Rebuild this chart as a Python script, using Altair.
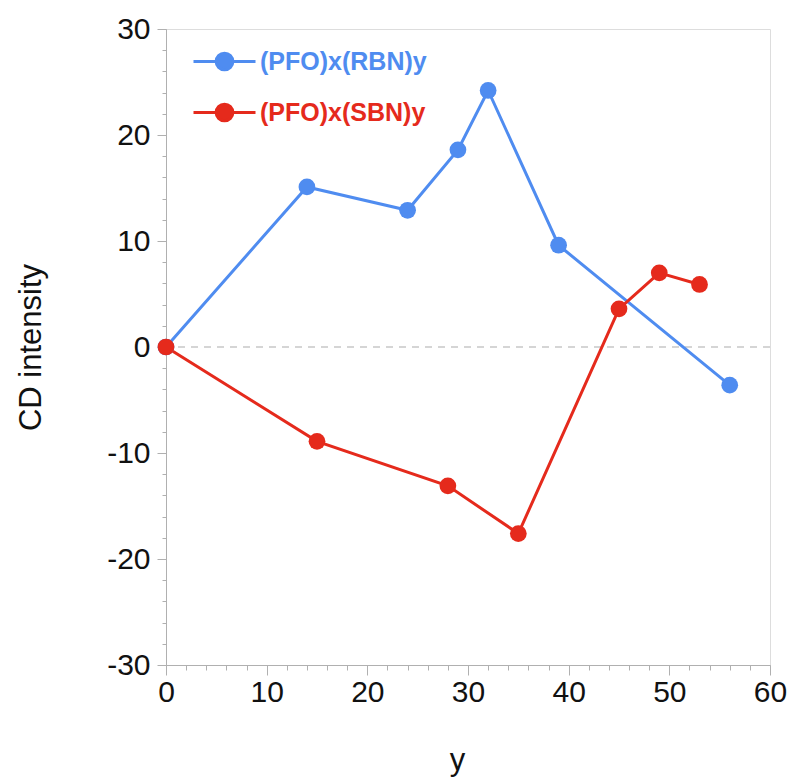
import altair as alt
import pandas as pd

series = ["(PFO)x(RBN)y", "(PFO)x(SBN)y"]
colors = ["#4f8cf0", "#e52a1c"]
rbn_x = [0, 14, 24, 29, 32, 39, 56]
rbn_y = [0, 15.1, 12.9, 18.6, 24.2, 9.6, -3.6]
sbn_x = [0, 15, 28, 35, 45, 49, 53]
sbn_y = [0, -8.9, -13.1, -17.6, 3.6, 7.0, 5.9]
x_major = list(range(0, 61, 10))
y_major = list(range(-30, 31, 10))
x_minor = list(range(0, 61, 2))
y_minor = list(range(-30, 31, 2))

rows = []
for i, (x, y) in enumerate(zip(rbn_x, rbn_y)):
    rows.append({"series": series[0], "x": x, "y": y, "o": i})
for i, (x, y) in enumerate(zip(sbn_x, sbn_y)):
    rows.append({"series": series[1], "x": x, "y": y, "o": i})
df = pd.DataFrame(rows)

FONT = "Liberation Sans"
AX = "#b0b0b0"

xscale = alt.Scale(domain=[0, 60], nice=False, zero=False)
yscale = alt.Scale(domain=[-30, 30], nice=False, zero=False)

label_expr = "'' + datum.value"

x_axis = alt.Axis(
    orient="bottom", values=x_major, labelExpr=label_expr, tickSize=10,
    labelOverlap=False, labelFlush=False, labelBound=False, grid=False,
    labelFontSize=30, labelFont=FONT,
    labelColor="#111", domainColor=AX, tickColor=AX, labelPadding=2,
    title="y", titleFontSize=31, titleFont=FONT, titleFontWeight="normal",
    titleColor="#111", titleY=95, titleX=291, titleBaseline="middle",
)
y_axis = alt.Axis(
    orient="left", values=y_major, labelExpr=label_expr, tickSize=9,
    labelOverlap=False, labelFlush=False, labelBound=False, grid=False,
    labelFontSize=30, labelFont=FONT,
    labelColor="#111", domainColor=AX, tickColor=AX, labelPadding=7,
    title="CD intensity", titleFontSize=31, titleFont=FONT, titleFontWeight="normal",
    titleColor="#111", titleX=-135, titleY=318, titleAngle=-90,
    titleBaseline="middle", titleAlign="center",
)
x_minor_axis = alt.Axis(orient="bottom", values=x_minor, labels=False, tickSize=5,
                        domain=False, grid=False, title=None, tickColor=AX)
y_minor_axis = alt.Axis(orient="left", values=y_minor, labels=False, tickSize=4,
                        domain=False, grid=False, title=None, tickColor=AX)

color_expr = "datum.value == '%s' ? '%s' : '%s'" % (series[0], colors[0], colors[1])
legend = alt.Legend(
    title=None, orient="none", legendX=26, legendY=0,
    symbolType="M -1 0 L -0.27 0 M 0.27 0 L 1 0 M 0.27 0 A 0.27 0.27 0 1 1 -0.27 0 A 0.27 0.27 0 1 1 0.27 0 Z",
    symbolSize=3844, symbolStrokeWidth=3,
    symbolFillColor={"expr": color_expr}, symbolStrokeColor={"expr": color_expr},
    labelColor={"expr": color_expr}, labelFontSize=25, labelFont=FONT,
    labelFontWeight="bold", labelOffset=3, rowPadding=4, labelLimit=500,
)

cscale = alt.Scale(domain=series, range=colors)

minor = alt.Chart(df).mark_point(opacity=0).encode(
    x=alt.X("x:Q", scale=xscale, axis=x_minor_axis),
    y=alt.Y("y:Q", scale=yscale, axis=y_minor_axis),
)

zero = alt.Chart(pd.DataFrame({"y": [0]})).mark_rule(
    color="#c8c8c8", strokeDash=[7, 6], strokeWidth=1.5
).encode(y=alt.Y("y:Q", scale=yscale, axis=None))

lines = alt.Chart(df).mark_line(strokeWidth=3).encode(
    x=alt.X("x:Q", scale=xscale, axis=x_axis),
    y=alt.Y("y:Q", scale=yscale, axis=y_axis),
    color=alt.Color("series:N", scale=cscale, legend=legend), order="o:Q",
)
points = alt.Chart(df).mark_circle(size=280, opacity=1).encode(
    x=alt.X("x:Q", scale=xscale, axis=None),
    y=alt.Y("y:Q", scale=yscale, axis=None),
    color=alt.Color("series:N", scale=cscale, legend=None),
)

chart = alt.layer(minor, zero, lines, points).resolve_axis(
    x="independent", y="independent"
).properties(
    width=604, height=636,
    autosize=alt.AutoSizeParams(type="none"),
    padding={"left": 166, "top": 29, "right": 24, "bottom": 113},
).configure_view(stroke=AX, strokeWidth=1).configure(background="white")

chart.save("out.html", embed_options={"renderer": "svg", "actions": False})
